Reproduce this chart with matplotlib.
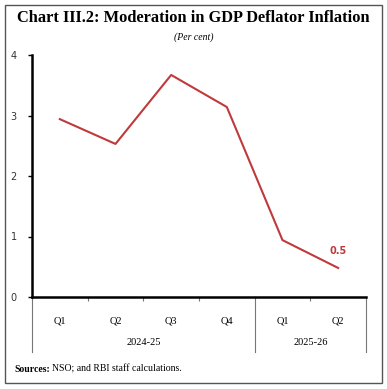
import numpy as np
import matplotlib.pyplot as plt
from matplotlib.patches import Rectangle
from matplotlib.transforms import blended_transform_factory

quarters = ['Q1', 'Q2', 'Q3', 'Q4', 'Q1', 'Q2']
years = ['2024-25', '2025-26']
year_span = [(0, 3), (4, 5)]
deflator = [2.94, 2.53, 3.67, 3.14, 0.94, 0.48]

red = '#C0393B'
serif = 'Liberation Serif'

fig = plt.figure(figsize=(3.87, 3.89), dpi=100)
fig.patches.append(Rectangle((5/387, 1-383/389), 377/387, 378/389, transform=fig.transFigure,
                             fill=False, edgecolor='#555555', lw=1.0))

ax = fig.add_axes([32/387, 1-297/389, 334/387, 242/389])
x = np.arange(len(deflator))
ax.plot(x, deflator, color=red, lw=1.5)
ax.text(x[-1], deflator[-1] + 0.2, '0.5', color=red, fontsize=7, fontweight='bold',
        ha='center', va='bottom', family='DejaVu Sans')

ax.set_xlim(-0.5, 5.5)
ax.set_ylim(0, 4)
ax.set_yticks([0, 1, 2, 3, 4])
ax.tick_params(axis='y', labelsize=7, length=3, width=1, pad=8, labelcolor='#333333')
ax.set_xticks([])
ax.set_xticks([0.5, 1.5, 2.5, 4.5], minor=True)
ax.tick_params(axis='x', which='minor', length=3, width=0.8, color='#777777')
for s in ['top', 'right']:
    ax.spines[s].set_visible(False)
ax.spines['left'].set_linewidth(1.8)
ax.spines['bottom'].set_linewidth(1.8)

tr = blended_transform_factory(ax.transData, ax.transAxes)
for xv in [-0.5, 3.5, 5.5]:
    ax.plot([xv, xv], [0, -0.227], transform=tr, color='#777777', lw=0.8, clip_on=False)
for i, q in enumerate(quarters):
    ax.text(i, -0.1, q, transform=tr, ha='center', va='center', fontsize=7.5, family=serif)
for (a, b), yr in zip(year_span, years):
    ax.text((a + b) / 2, -0.19, yr, transform=tr, ha='center', va='center', fontsize=7.5, family=serif)

fig.text(0.5, 1-18/389, 'Chart III.2: Moderation in GDP Deflator Inflation', ha='center', va='center',
         fontsize=11.8, fontweight='bold', family=serif)
fig.text(0.5, 1-37/389, '(Per cent)', ha='center', va='center', fontsize=7, style='italic', family=serif)
t = fig.text(14/387, 1-369/389, 'Sources:', ha='left', va='center', fontsize=7, fontweight='bold', family=serif)
fig.canvas.draw()
bb = t.get_window_extent()
fig.text((bb.x1 + 2) / 387, 1-369/389, 'NSO; and RBI staff calculations.', ha='left', va='center',
         fontsize=7, family=serif)

fig.savefig('out.png', dpi=100)
